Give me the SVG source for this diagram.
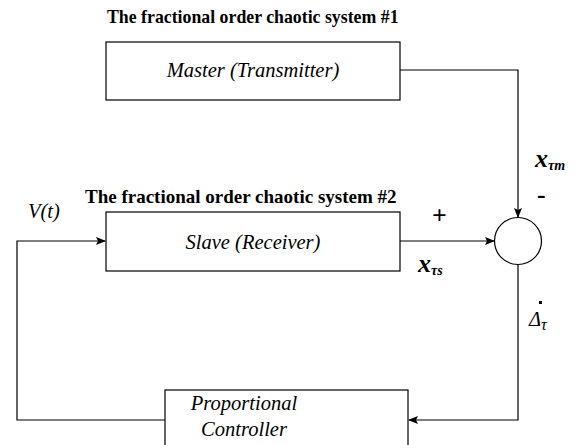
<svg xmlns="http://www.w3.org/2000/svg" width="583" height="445" viewBox="0 0 583 445">
<defs>
<style>
.box{fill:#fff;stroke:#000;stroke-width:1.2}
.ln{fill:none;stroke:#000;stroke-width:1.2}
.title{font-family:"Liberation Serif",serif;font-weight:bold;fill:#000}
.lbl{font-family:"Liberation Serif",serif;font-style:italic;font-size:20.5px;fill:#000}
.sym{font-family:"Liberation Serif",serif;font-weight:bold;font-style:italic;fill:#000}
.sign{font-family:"Liberation Serif",serif;font-weight:bold;font-size:26px;fill:#000}
</style>
<marker id="ah" markerWidth="10" markerHeight="8" refX="9" refY="4" orient="auto" markerUnits="userSpaceOnUse">
<path d="M0,0 L10,4 L0,8 L2,4 Z" fill="#000"/>
</marker>
</defs>
<rect width="583" height="445" fill="#fff"/>
<text class="title" x="107" y="23" font-size="17.8">The fractional order chaotic system #1</text>
<text class="title" x="85" y="203" font-size="19">The fractional order chaotic system #2</text>
<g id="master">
<rect class="box" x="106" y="42" width="294" height="58"/>
<text class="lbl" x="253" y="77" text-anchor="middle">Master (Transmitter)</text>
</g>
<g id="slave">
<rect class="box" x="106" y="212" width="294" height="59"/>
<text class="lbl" x="253" y="249" text-anchor="middle">Slave (Receiver)</text>
</g>
<g id="sum">
<circle cx="518" cy="241" r="23.5" fill="#fff" stroke="#000" stroke-width="1.2"/>
</g>
<g id="controller">
<rect class="box" x="165" y="390" width="243" height="60"/>
<text class="lbl" x="244" y="410" text-anchor="middle" font-size="20">Proportional</text>
<text class="lbl" x="244" y="436" text-anchor="middle" font-size="20">Controller</text>
</g>
<g id="connectors">
<polyline class="ln" points="400,70 518,70 518,217" marker-end="url(#ah)"/>
<line class="ln" x1="400" y1="241" x2="494" y2="241" marker-end="url(#ah)"/>
<polyline class="ln" points="518,265 518,420 409,420" marker-end="url(#ah)"/>
<polyline class="ln" points="165,420 17,420 17,241 105,241" marker-end="url(#ah)"/>
</g>
<g id="labels">
<text class="sym" x="535" y="167" font-size="26">x<tspan font-size="14" dy="3">τm</tspan></text>
<text class="sign" x="537" y="203">-</text>
<text class="sign" x="432" y="224">+</text>
<text class="sym" x="418" y="272" font-size="26">x<tspan font-size="14" dy="3">τs</tspan></text>
<text class="lbl" x="28" y="218" font-size="23">V(t)</text>
<text class="lbl" x="529" y="326" font-size="23">Δ<tspan font-size="16" dy="4">τ</tspan></text>
<rect x="539" y="301" width="3" height="3" fill="#000"/>
</g>
</svg>
